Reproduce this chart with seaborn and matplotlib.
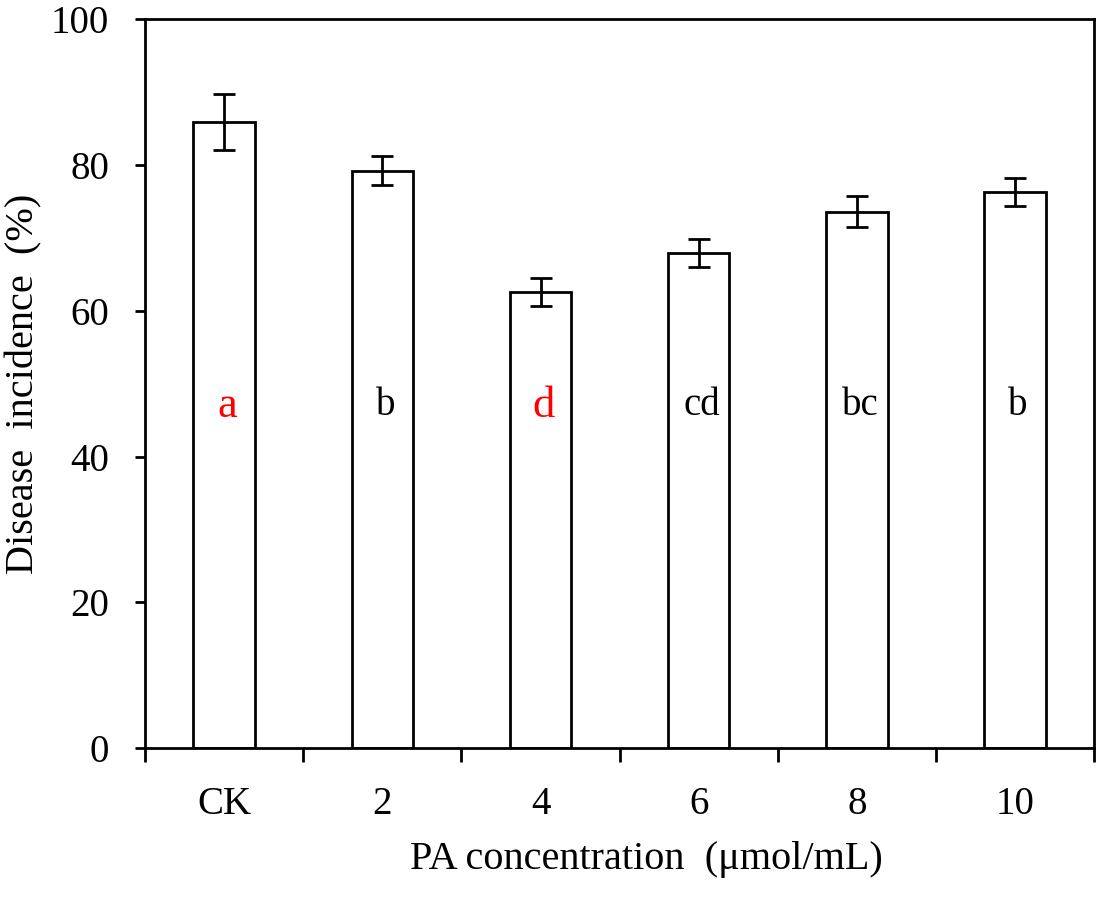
import matplotlib
matplotlib.use("Agg")
import matplotlib.pyplot as plt
import seaborn as sns
import pandas as pd

# values
groups = ["CK", "2", "4", "6", "8", "10"]
incidence = [85.9, 79.2, 62.6, 67.9, 73.6, 76.3]
errors = [3.9, 2.0, 1.95, 1.9, 2.1, 1.9]
letters = ["a", "b", "d", "cd", "bc", "b"]
letter_colors = ["red", "black", "red", "black", "black", "black"]

df = pd.DataFrame({"group": groups, "incidence": incidence, "err": errors})

sns.set_style("ticks")
plt.rcParams["font.family"] = ["Liberation Serif", "DejaVu Serif"]
plt.rcParams.update({"text.color": "black", "axes.labelcolor": "black",
                     "xtick.color": "black", "ytick.color": "black"})

fig = plt.figure(figsize=(11, 9.17), dpi=100)
ax = fig.add_axes([0.132, 0.184, 0.8625, 0.795])

sns.barplot(data=df, x="group", y="incidence", order=groups,
            color="white", edgecolor="black", linewidth=2,
            width=0.39, errorbar=None, ax=ax)
ax.errorbar(range(len(groups)), df["incidence"], yerr=df["err"],
            fmt="none", ecolor="black", elinewidth=2, capsize=8, capthick=2)

for i, (lab, col) in enumerate(zip(letters, letter_colors)):
    size = 32 if col == "red" else 28
    ax.text(i + 0.02, 47, lab, ha="center", va="center",
            color=col, fontsize=size)

ax.set_xlim(-0.5, len(groups) - 0.5)
ax.set_ylim(0, 100)
ax.set_yticks(range(0, 101, 20))

# labels at bar centres, tick marks between groups
ax.set_xticks(range(len(groups)))
ax.set_xticklabels(groups)
ax.set_xticks([i - 0.5 for i in range(len(groups) + 1)], minor=True)
ax.tick_params(axis="x", which="major", length=0, pad=27, labelsize=28)
ax.tick_params(axis="x", which="minor", length=10, width=2, direction="out")
ax.tick_params(axis="y", length=7, width=2, direction="out", pad=19, labelsize=28)

for sp in ax.spines.values():
    sp.set_visible(True)
    sp.set_linewidth(2)
    sp.set_color("black")

ax.set_xlabel("PA concentration  (\u03bcmol/mL)", fontsize=29)
ax.set_ylabel("Disease  incidence  (%)", fontsize=29)
ax.xaxis.set_label_coords(0.528, -0.152)
ax.yaxis.set_label_coords(-0.128, 0.5)
ax.xaxis.label.set_va("center")
ax.yaxis.label.set_va("center")

fig.savefig("out.png", dpi=100, facecolor="white")
